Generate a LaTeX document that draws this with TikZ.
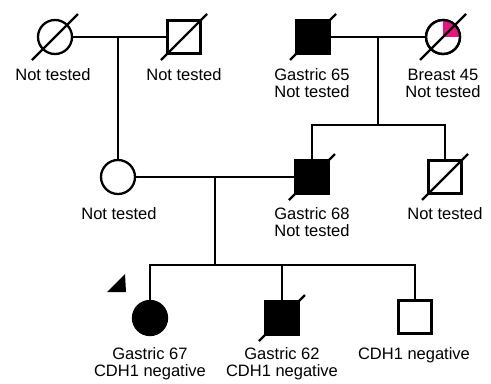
\documentclass[tikz,border=0pt]{standalone}
\usepackage{fontspec}
\setmainfont{Liberation Sans}
\definecolor{pinkq}{HTML}{E3177D}
\begin{document}
\begin{tikzpicture}[x=1bp,y=-1bp,
  every node/.style={inner sep=0pt, outer sep=0pt},
  fem/.style={circle, draw, line width=2.3bp, minimum size=34bp, fill=white},
  mal/.style={rectangle, draw, line width=2.3bp, minimum size=33bp, fill=white},
  aff/.style={fill=black},
  conn/.style={line width=2bp},
  slash/.style={line width=2.3bp},
  lbl/.style={anchor=base, align=center, font=\fontsize{16.5bp}{17bp}\selectfont}]
\useasboundingbox (0,0) rectangle (491,383);
% Generation I
\node[fem] (c1) at (55,37) {};
\node[mal] (s1) at (184,37) {};
\node[mal,aff] (s2) at (313,37) {};
\node[fem] (c2) at (443,37) {};
\begin{scope}
  \clip (443,37) circle[radius=17bp];
  \fill[pinkq] (443,37) rectangle (463,17);
\end{scope}
\node[fem, fill=none] at (443,37) {};
% Generation II
\node[fem] (c3) at (118,177) {};
\node[mal,aff] (s3) at (312,177) {};
\node[mal] (s4) at (445,177) {};
% Generation III
\node[fem,aff] (d1) at (150,318) {};
\node[mal,aff] (d2) at (282,318) {};
\node[mal] (d3) at (415,317) {};
% connectors
\coordinate (m1) at (118,37);
\coordinate (m2) at (378,37);
\coordinate (sb1) at (378,125);
\coordinate (m3) at (215,177);
\coordinate (sb2) at (215,265);
\draw[conn] (c1) -- (s1);
\draw[conn] (m1) -- (c3);
\draw[conn] (s2) -- (c2);
\draw[conn] (m2) -- (sb1);
\draw[conn] (sb1) -| (s3);
\draw[conn] (sb1) -| (s4);
\draw[conn] (c3) -- (s3);
\draw[conn] (m3) -- (sb2);
\draw[conn] (sb2) -| (d1);
\draw[conn] (sb2) -| (d2);
\draw[conn] (sb2) -| (d3);
% deceased slashes
\foreach \n in {c1,s1,s2,c2,s3,s4,d2}
  \draw[slash] ([shift={(-23,23)}]\n.center) -- ([shift={(23,-23)}]\n.center);
% proband marker
\fill (107,292) -- (126,292) -- (125,274) -- cycle;
% labels (base anchor = last line's baseline)
\node[lbl] (t1) at (53,80) {Not tested};
\node[lbl] (t2) at (184,80) {Not tested};
\node[lbl] (t3) at (312,97) {Gastric 65\\Not tested};
\node[lbl] (t4) at (443,97) {Breast 45\\Not tested};
\node[lbl] (t5) at (119,219) {Not tested};
\node[lbl] (t6) at (312,236) {Gastric 68\\Not tested};
\node[lbl] (t7) at (445,219) {Not tested};
\node[lbl] (t8) at (150,376) {Gastric 67\\CDH1 negative};
\node[lbl] (t9) at (282,376) {Gastric 62\\CDH1 negative};
\node[lbl] (t10) at (414,359) {CDH1 negative};
\end{tikzpicture}
\end{document}
